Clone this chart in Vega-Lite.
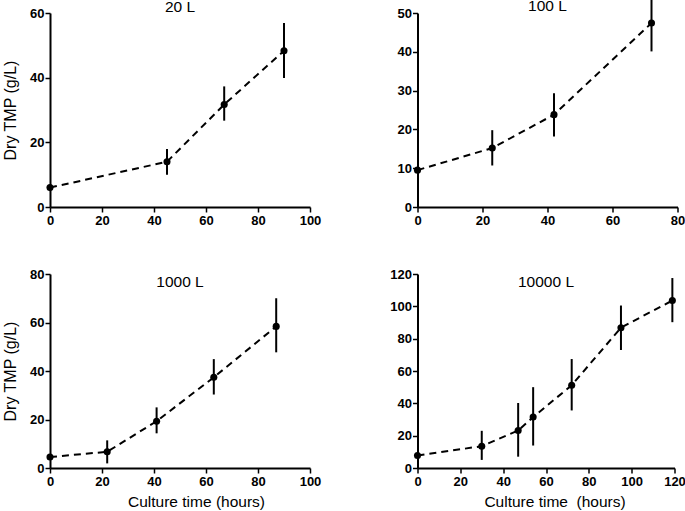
{
  "$schema": "https://vega.github.io/schema/vega-lite/v6.json",
  "background": "white",
  "padding": {"left": 2, "top": -2, "right": 0, "bottom": 0},
  "data": {"values": [
    {"panel": "20 L", "t": 0, "y": 6.0, "lo": 5.5, "hi": 6.5},
    {"panel": "20 L", "t": 45, "y": 14.0, "lo": 10.0, "hi": 17.9},
    {"panel": "20 L", "t": 67, "y": 31.7, "lo": 26.7, "hi": 37.3},
    {"panel": "20 L", "t": 90, "y": 48.3, "lo": 39.9, "hi": 56.9},
    {"panel": "100 L", "t": 0, "y": 9.5, "lo": 9.0, "hi": 10.0},
    {"panel": "100 L", "t": 23, "y": 15.2, "lo": 10.7, "hi": 19.8},
    {"panel": "100 L", "t": 42, "y": 23.8, "lo": 18.2, "hi": 29.3},
    {"panel": "100 L", "t": 72, "y": 47.4, "lo": 40.1, "hi": 53.6},
    {"panel": "1000 L", "t": 0, "y": 4.5, "lo": 4.0, "hi": 5.0},
    {"panel": "1000 L", "t": 22, "y": 6.7, "lo": 1.9, "hi": 11.4},
    {"panel": "1000 L", "t": 41, "y": 19.3, "lo": 14.3, "hi": 25.0},
    {"panel": "1000 L", "t": 63, "y": 37.4, "lo": 30.3, "hi": 44.9},
    {"panel": "1000 L", "t": 87, "y": 58.4, "lo": 47.7, "hi": 70.0},
    {"panel": "10000 L", "t": 0, "y": 7.7, "lo": 6.5, "hi": 9.0},
    {"panel": "10000 L", "t": 30, "y": 13.5, "lo": 5.0, "hi": 23.0},
    {"panel": "10000 L", "t": 47, "y": 23.2, "lo": 7.0, "hi": 40.2},
    {"panel": "10000 L", "t": 54, "y": 31.5, "lo": 13.9, "hi": 50.0},
    {"panel": "10000 L", "t": 72, "y": 51.2, "lo": 35.6, "hi": 67.4},
    {"panel": "10000 L", "t": 95, "y": 86.8, "lo": 73.0, "hi": 100.5},
    {"panel": "10000 L", "t": 119, "y": 103.6, "lo": 90.2, "hi": 117.5}
  ]},
  "columns": 2,
  "spacing": {"row": 67, "column": 107.5},
  "bounds": "flush",
  "concat": [
    {
      "width": 260, "height": 194,
      "title": {"text": "20 L", "offset": -8.7},
      "transform": [{"filter": "datum.panel === '20 L'"}],
      "encoding": {"x": {"field": "t", "type": "quantitative", "scale": {"domain": [0, 100], "nice": false}, "axis": {"values": [0, 20, 40, 60, 80, 100], "title": null}}},
      "layer": [
        {"mark": {"type": "rule", "color": "black", "strokeWidth": 2}, "encoding": {"y": {"field": "lo", "type": "quantitative", "scale": {"domain": [0, 60], "nice": false}, "axis": {"values": [0, 20, 40, 60], "title": "Dry TMP (g/L)"}}, "y2": {"field": "hi"}}},
        {"mark": {"type": "line", "color": "black", "strokeWidth": 2, "strokeDash": [7, 5]}, "encoding": {"y": {"field": "y", "type": "quantitative", "scale": {"domain": [0, 60], "nice": false}, "axis": {"values": [0, 20, 40, 60], "title": "Dry TMP (g/L)"}}}},
        {"mark": {"type": "point", "filled": true, "color": "black", "opacity": 1, "size": 50}, "encoding": {"y": {"field": "y", "type": "quantitative", "scale": {"domain": [0, 60], "nice": false}, "axis": {"values": [0, 20, 40, 60], "title": "Dry TMP (g/L)"}}}}
      ]
    },
    {
      "width": 260, "height": 194,
      "title": {"text": "100 L", "offset": -16.5},
      "transform": [{"filter": "datum.panel === '100 L'"}],
      "encoding": {"x": {"field": "t", "type": "quantitative", "scale": {"domain": [0, 80], "nice": false}, "axis": {"values": [0, 20, 40, 60, 80], "title": null}}},
      "layer": [
        {"mark": {"type": "rule", "color": "black", "strokeWidth": 2}, "encoding": {"y": {"field": "lo", "type": "quantitative", "scale": {"domain": [0, 50], "nice": false}, "axis": {"values": [0, 10, 20, 30, 40, 50], "title": null}}, "y2": {"field": "hi"}}},
        {"mark": {"type": "line", "color": "black", "strokeWidth": 2, "strokeDash": [7, 5]}, "encoding": {"y": {"field": "y", "type": "quantitative", "scale": {"domain": [0, 50], "nice": false}, "axis": {"values": [0, 10, 20, 30, 40, 50], "title": null}}}},
        {"mark": {"type": "point", "filled": true, "color": "black", "opacity": 1, "size": 50}, "encoding": {"y": {"field": "y", "type": "quantitative", "scale": {"domain": [0, 50], "nice": false}, "axis": {"values": [0, 10, 20, 30, 40, 50], "title": null}}}}
      ]
    },
    {
      "width": 260, "height": 194,
      "title": {"text": "1000 L", "offset": -22},
      "transform": [{"filter": "datum.panel === '1000 L'"}],
      "encoding": {"x": {"field": "t", "type": "quantitative", "scale": {"domain": [0, 100], "nice": false}, "axis": {"values": [0, 20, 40, 60, 80, 100], "title": "Culture time (hours)", "titleX": 146, "titleY": 38, "titleBaseline": "alphabetic"}}},
      "layer": [
        {"mark": {"type": "rule", "color": "black", "strokeWidth": 2}, "encoding": {"y": {"field": "lo", "type": "quantitative", "scale": {"domain": [0, 80], "nice": false}, "axis": {"values": [0, 20, 40, 60, 80], "title": "Dry TMP (g/L)"}}, "y2": {"field": "hi"}}},
        {"mark": {"type": "line", "color": "black", "strokeWidth": 2, "strokeDash": [7, 5]}, "encoding": {"y": {"field": "y", "type": "quantitative", "scale": {"domain": [0, 80], "nice": false}, "axis": {"values": [0, 20, 40, 60, 80], "title": "Dry TMP (g/L)"}}}},
        {"mark": {"type": "point", "filled": true, "color": "black", "opacity": 1, "size": 50}, "encoding": {"y": {"field": "y", "type": "quantitative", "scale": {"domain": [0, 80], "nice": false}, "axis": {"values": [0, 20, 40, 60, 80], "title": "Dry TMP (g/L)"}}}}
      ]
    },
    {
      "width": 257, "height": 194,
      "title": {"text": "10000 L", "offset": -22},
      "transform": [{"filter": "datum.panel === '10000 L'"}],
      "encoding": {"x": {"field": "t", "type": "quantitative", "scale": {"domain": [0, 120], "nice": false}, "axis": {"values": [0, 20, 40, 60, 80, 100, 120], "title": "Culture time\u00a0 (hours)", "titleX": 137, "titleY": 38, "titleBaseline": "alphabetic"}}},
      "layer": [
        {"mark": {"type": "rule", "color": "black", "strokeWidth": 2}, "encoding": {"y": {"field": "lo", "type": "quantitative", "scale": {"domain": [0, 120], "nice": false}, "axis": {"values": [0, 20, 40, 60, 80, 100, 120], "title": null}}, "y2": {"field": "hi"}}},
        {"mark": {"type": "line", "color": "black", "strokeWidth": 2, "strokeDash": [7, 5]}, "encoding": {"y": {"field": "y", "type": "quantitative", "scale": {"domain": [0, 120], "nice": false}, "axis": {"values": [0, 20, 40, 60, 80, 100, 120], "title": null}}}},
        {"mark": {"type": "point", "filled": true, "color": "black", "opacity": 1, "size": 50}, "encoding": {"y": {"field": "y", "type": "quantitative", "scale": {"domain": [0, 120], "nice": false}, "axis": {"values": [0, 20, 40, 60, 80, 100, 120], "title": null}}}}
      ]
    }
  ],
  "config": {
    "view": {"stroke": null},
    "font": "Liberation Sans",
    "title": {"font": "Liberation Sans", "fontSize": 15.5, "fontWeight": "normal", "color": "black", "anchor": "middle", "baseline": "alphabetic"},
    "axis": {
      "grid": false,
      "labelFont": "Liberation Sans", "labelFontWeight": "bold", "labelFontSize": 13, "labelColor": "black", "labelPadding": 2,
      "domainColor": "black", "domainWidth": 2, "tickColor": "black", "tickWidth": 1.5, "tickSize": 5,
      "titleFont": "Liberation Sans", "titleFontWeight": "normal", "titleFontSize": 15.5, "titleColor": "black"
    },
    "axisY": {"titlePadding": 11, "labelPadding": 1, "titleFontSize": 16},
    "axisX": {"labelFlush": false}
  }
}
